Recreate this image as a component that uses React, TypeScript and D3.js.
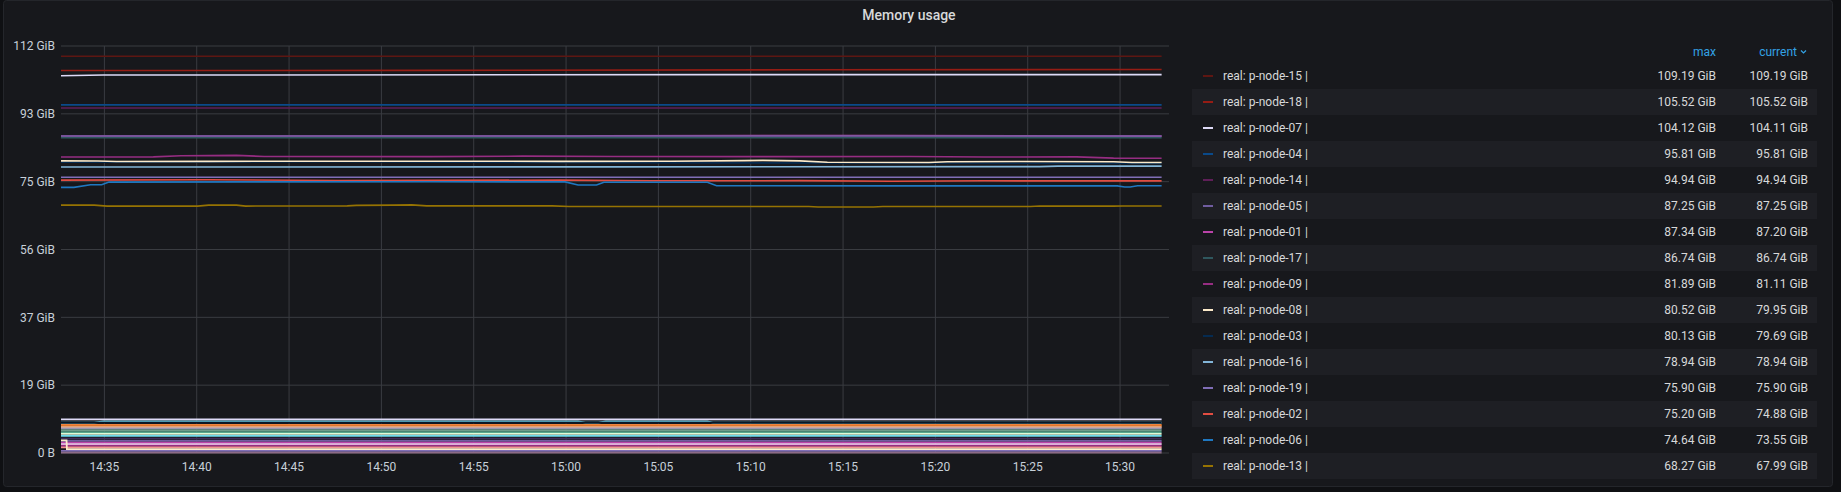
import React from 'react';
import * as d3 from 'd3';

const W = 1841;
const H = 492;

// time window of the panel (1 hour)
const startTime = new Date(2021, 5, 1, 14, 32, 39);
const endTime = new Date(2021, 5, 1, 15, 32, 39);

const yMaxGiB = 112;
const yTickLabels = ['0 B', '19 GiB', '37 GiB', '56 GiB', '75 GiB', '93 GiB', '112 GiB'];

// legend (sorted by current, desc)
const legendNames = [
  'real: p-node-15 |', 'real: p-node-18 |', 'real: p-node-07 |', 'real: p-node-04 |',
  'real: p-node-14 |', 'real: p-node-05 |', 'real: p-node-01 |', 'real: p-node-17 |',
  'real: p-node-09 |', 'real: p-node-08 |', 'real: p-node-03 |', 'real: p-node-16 |',
  'real: p-node-19 |', 'real: p-node-02 |', 'real: p-node-06 |', 'real: p-node-13 |',
];
const legendColors = [
  '#5e1612', '#951c14', '#dedaf7', '#0a4a8a', '#5f1f58', '#705da0', '#ba43a9', '#2f575e',
  '#962d82', '#fceaca', '#052b51', '#82b5d8', '#806eb7', '#e24d42', '#1f78c1', '#967302',
];
const legendMax = [109.19, 105.52, 104.12, 95.81, 94.94, 87.25, 87.34, 86.74, 81.89, 80.52, 80.13, 78.94, 75.9, 75.2, 74.64, 68.27];
const legendCurrent = [109.19, 105.52, 104.11, 95.81, 94.94, 87.25, 87.2, 86.74, 81.11, 79.95, 79.69, 78.94, 75.9, 74.88, 73.55, 67.99];

// samples: [minutes after start, GiB]
const node15: [number, number][] = [[0, 109.19], [59.6, 109.19]];
const node18: [number, number][] = [[0, 105.25], [20, 105.3], [40, 105.45], [59.6, 105.52]];
const node07: [number, number][] = [[0, 103.8], [2.3, 104.0], [36, 104.12], [59.6, 104.11]];
const node04: [number, number][] = [[0, 95.81], [59.6, 95.81]];
const node14: [number, number][] = [[0, 94.94], [59.6, 94.94]];
const node05: [number, number][] = [[0, 87.25], [59.6, 87.25]];
const node01: [number, number][] = [[0, 87.25], [28, 87.25], [29, 87.32], [45, 87.34], [59.6, 87.2]];
const node17: [number, number][] = [[0, 86.74], [59.6, 86.74]];
const node09: [number, number][] = [
  [0, 81.45], [5, 81.5], [6.5, 81.8], [9.5, 81.89], [11, 81.6], [20, 81.55], [25, 81.7], [30, 81.6],
  [38, 81.55], [46, 81.6], [50, 81.45], [55, 81.5], [57, 81.15], [59.6, 81.11],
];
const node08: [number, number][] = [
  [0, 80.4], [2, 80.35], [3, 80.2], [8, 80.25], [13, 80.3], [20, 80.3], [27, 80.25], [33, 80.3],
  [37, 80.45], [38, 80.52], [40, 80.4], [41.5, 80.0], [47, 79.95], [48, 80.15], [52, 80.2],
  [57, 80.15], [58, 79.95], [59.6, 79.95],
];
const node03: [number, number][] = [[0, 80.0], [15, 80.13], [30, 79.9], [45, 79.8], [59.6, 79.69]];
const node16: [number, number][] = [[0, 78.7], [30, 78.75], [53, 78.8], [54, 78.94], [59.6, 78.94]];
const node19: [number, number][] = [[0, 75.9], [59.6, 75.9]];
const node02: [number, number][] = [
  [0, 75.1], [8, 75.2], [15, 75.0], [27, 75.1], [32, 74.9], [40, 74.95], [45, 74.8], [50, 74.9], [59.6, 74.88],
];
const node06: [number, number][] = [
  [0, 73.1], [0.7, 73.1], [1.6, 73.8], [2.2, 73.8], [2.6, 74.55], [10, 74.6], [20, 74.64], [27.3, 74.6],
  [28, 73.75], [29, 73.75], [29.4, 74.5], [35, 74.5], [35.5, 73.55], [45, 73.5], [57.2, 73.5],
  [57.6, 73.2], [57.9, 73.2], [58.3, 73.55], [59.6, 73.55],
];
const node13: [number, number][] = [
  [0, 68.2], [1.8, 68.2], [2.5, 67.95], [7.4, 67.95], [8, 68.2], [9.5, 68.2], [10, 67.95], [15.5, 68.0],
  [16, 68.15], [18, 68.2], [19, 68.27], [19.8, 68.0], [26.6, 68.0], [27.5, 67.85], [40.5, 67.85],
  [41, 67.7], [44, 67.7], [44.5, 67.85], [52.5, 67.85], [53, 67.95], [57, 67.95], [57.5, 67.99], [59.6, 67.99],
];
const legendPoints = [
  node15, node18, node07, node04, node14, node05, node01, node17,
  node09, node08, node03, node16, node19, node02, node06, node13,
];
// drawing order (later = on top)
const drawOrder = [0, 1, 2, 3, 4, 7, 6, 5, 10, 8, 9, 11, 12, 13, 14, 15];

// the low series below ~10 GiB (scrolled out of the legend)
const bandColors = [
  '#65c5db', '#dedaf7', '#0b1626', '#ef843c', '#e0752d', '#f9ba8f', '#9a94b0', '#6f9c8a',
  '#5aa88f', '#e0f9d7', '#70dbed', '#3f2b5b', '#705da0', '#ba43a9', '#f9d9f9', '#962d82',
  '#f29191', '#fceaca', '#806eb7', '#8c6a86',
];
const bandPoints: [number, number][][] = [
  [[0, 8.35], [1.8, 8.35], [2.3, 8.7], [28, 8.7], [28.4, 8.35], [29.1, 8.35], [29.5, 8.7], [35, 8.7], [35.3, 8.35], [59.6, 8.35]],
  [[0, 9.27], [59.6, 9.27]],
  [[0, 8.35], [59.6, 8.35]],
  [[0, 7.72], [59.6, 7.72]],
  [[0, 7.45], [59.6, 7.45]],
  [[0, 7.1], [59.6, 7.1]],
  [[0, 6.76], [59.6, 6.76]],
  [[0, 6.3], [59.6, 6.3]],
  [[0, 5.76], [59.6, 5.76]],
  [[0, 5.24], [59.6, 5.24]],
  [[0, 4.7], [59.6, 4.7]],
  [[0, 3.95], [59.6, 3.95]],
  [[0, 3.36], [59.6, 3.36]],
  [[0, 2.88], [59.6, 2.88]],
  [[0, 2.45], [59.6, 2.45]],
  [[0, 2.0], [59.6, 2.0]],
  [[0, 1.56], [59.6, 1.56]],
  [[0, 3.5], [0.3, 3.5], [0.32, 1.05], [59.6, 1.05]],
  [[0, 0.56], [59.6, 0.56]],
  [[0, 0.12], [59.6, 0.12]],
];

const plot = { left: 61, right: 1169, top: 46, bottom: 453 };

const App = () => {
  const x = d3.scaleTime().domain([startTime, endTime]).range([plot.left, plot.right]);
  const y = d3.scaleLinear().domain([0, yMaxGiB]).range([plot.bottom, plot.top]);
  const t = (m: number) => new Date(startTime.getTime() + m * 60000);
  const line = d3.line<[number, number]>()
    .x(d => x(t(d[0])))
    .y(d => y(d[1]));

  const yTicks = yTickLabels.map((_, i) => (yMaxGiB * i) / (yTickLabels.length - 1));
  const xTicks = x.ticks(d3.timeMinute.every(5) as any);
  const fmt = d3.timeFormat('%H:%M');

  const font = 'Roboto, "Noto Sans", sans-serif';
  const rowY = (i: number) => 76 + i * 26;

  return (
    <svg width={W} height={H} style={{ position: 'absolute', left: 0, top: 0, display: 'block' }} fontFamily={font}>
      <rect width={W} height={H} fill="#0f1013" />
      <rect x={3.5} y={0.5} width={1829} height={486} rx={3} fill="#17181c" stroke="#24262b" />
      <text x={909} y={15} dy="0.35em" textAnchor="middle" fontSize={14} fontWeight={500} fill="#d8d9da">Memory usage</text>

      {/* grid */}
      {yTicks.map((v, i) => (
        <line key={'gy' + i} x1={plot.left} x2={plot.right} y1={y(v)} y2={y(v)} stroke="#3a3c41" strokeWidth={1} />
      ))}
      {xTicks.map((d, i) => (
        <line key={'gx' + i} x1={x(d)} x2={x(d)} y1={plot.top} y2={plot.bottom} stroke="#3a3c41" strokeWidth={1} />
      ))}
      {yTicks.map((v, i) => (
        <text key={'ty' + i} x={55} y={y(v)} dy="0.35em" textAnchor="end" fontSize={12} fill="#c7d0d9">{yTickLabels[i]}</text>
      ))}
      {xTicks.map((d, i) => (
        <text key={'tx' + i} x={x(d)} y={467} dy="0.35em" textAnchor="middle" fontSize={12} fill="#c7d0d9">{fmt(d)}</text>
      ))}

      {/* series */}
      <g fill="none" strokeWidth={1.8}>
        {bandPoints.map((p, i) => (
          <path key={'b' + i} d={line(p) || ''} stroke={bandColors[i]} />
        ))}
      </g>
      <g fill="none" strokeWidth={1.6}>
        {drawOrder.map(i => (
          <path key={'s' + i} d={line(legendPoints[i]) || ''} stroke={legendColors[i]} />
        ))}
      </g>

      {/* legend */}
      {legendNames.map((_, i) => (i % 2 === 1 ? (
        <rect key={'rb' + i} x={1192} y={rowY(i) - 13} width={625} height={26} fill="#1e1f24" />
      ) : null))}
      <text x={1716} y={52} dy="0.35em" textAnchor="end" fontSize={12} fill="#33a2e5">max</text>
      <text x={1797} y={52} dy="0.35em" textAnchor="end" fontSize={12} fill="#33a2e5">current</text>
      <path d="M1801,50.5 L1803.5,53 L1806,50.5" fill="none" stroke="#33a2e5" strokeWidth={1.2} />
      {legendNames.map((name, i) => (
        <g key={'lg' + i}>
          <line x1={1203} x2={1213} y1={rowY(i)} y2={rowY(i)} stroke={legendColors[i]} strokeWidth={2} />
          <text x={1223} y={rowY(i)} dy="0.35em" fontSize={12} fill="#d8d9da">{name}</text>
          <text x={1716} y={rowY(i)} dy="0.35em" textAnchor="end" fontSize={12} fill="#d8d9da">{legendMax[i].toFixed(2)} GiB</text>
          <text x={1808} y={rowY(i)} dy="0.35em" textAnchor="end" fontSize={12} fill="#d8d9da">{legendCurrent[i].toFixed(2)} GiB</text>
        </g>
      ))}
    </svg>
  );
};

export default App;
